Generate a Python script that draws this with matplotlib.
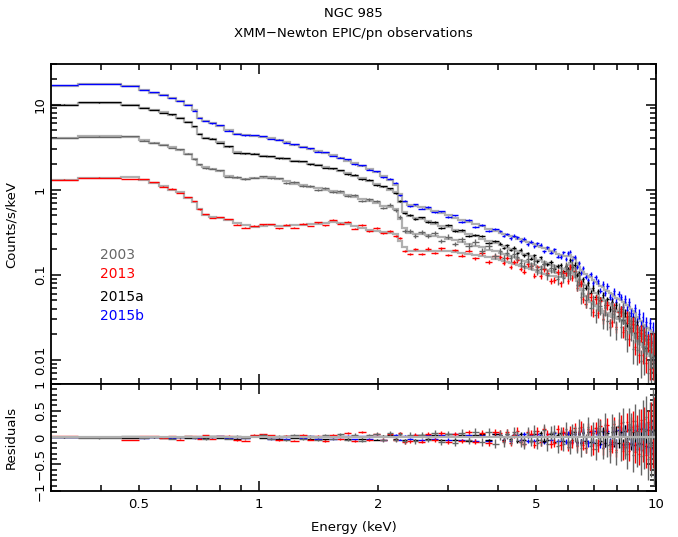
import numpy as np
import matplotlib
matplotlib.use("Agg")
import matplotlib.pyplot as plt
from matplotlib.ticker import FixedLocator, FuncFormatter, NullFormatter

# energy bin edges (keV), finer above 4 keV
edges = [0.30, 0.35, 0.45, 0.50, 0.53, 0.56, 0.59, 0.62, 0.65, 0.68,
         0.70, 0.72, 0.75, 0.78, 0.82, 0.86, 0.90, 0.95, 1.00, 1.05,
         1.10, 1.15, 1.20, 1.26, 1.32, 1.38, 1.44, 1.50, 1.57, 1.64,
         1.71, 1.78, 1.86, 1.94, 2.02, 2.10, 2.18, 2.24, 2.30, 2.36,
         2.44, 2.52, 2.62, 2.72, 2.83, 2.94, 3.06, 3.18, 3.31, 3.44,
         3.58, 3.72, 3.87, 4.02,
         4.10, 4.18, 4.26, 4.35, 4.44, 4.52, 4.61, 4.70, 4.80, 4.89,
         4.98, 5.08, 5.18, 5.28, 5.38, 5.49, 5.60, 5.71, 5.80, 5.90,
         5.98, 6.05, 6.12, 6.20, 6.28, 6.35, 6.42, 6.50, 6.60, 6.70,
         6.80, 6.90, 7.00, 7.10, 7.20, 7.30, 7.40, 7.50, 7.60, 7.70,
         7.80, 7.90, 8.00, 8.10, 8.20, 8.30, 8.40, 8.50, 8.60, 8.70,
         8.80, 8.90, 9.00, 9.10, 9.20, 9.30, 9.40, 9.50, 9.60, 9.70,
         9.78, 9.85, 9.93, 10.0]

labels = ["2003", "2013", "2015a", "2015b"]
colors = ["#666666", "#ff0000", "#000000", "#0000ff"]

# best-fit model, counts/s/keV, one value per bin
model_2003 = [4.0, 4.25, 4.2, 3.8, 3.55, 3.35, 3.15, 2.95, 2.6, 2.3,
              1.95, 1.85, 1.75, 1.65, 1.45, 1.37, 1.35, 1.36, 1.38, 1.40,
              1.32, 1.25, 1.18, 1.12, 1.08, 1.04, 1.0, 0.96, 0.92, 0.87,
              0.82, 0.78, 0.74, 0.69, 0.64, 0.62, 0.60, 0.45, 0.35, 0.31,
              0.305, 0.30, 0.295, 0.285, 0.275, 0.265, 0.255, 0.24, 0.23, 0.22,
              0.21, 0.198, 0.188,
              0.180, 0.174, 0.170, 0.164, 0.160, 0.155, 0.151, 0.146, 0.141, 0.135,
              0.131, 0.125, 0.122, 0.118, 0.115, 0.111, 0.108, 0.105, 0.103, 0.104,
              0.108, 0.114, 0.121, 0.115, 0.100, 0.088, 0.076, 0.068, 0.060, 0.056,
              0.051, 0.048, 0.045, 0.043, 0.040, 0.038, 0.036, 0.034, 0.0335, 0.0328,
              0.0322, 0.0318, 0.0312, 0.0305, 0.0295, 0.0283, 0.0268, 0.025, 0.0228, 0.021,
              0.0195, 0.0182, 0.0168, 0.0155, 0.0148, 0.0142, 0.0133, 0.0127, 0.0118, 0.0112,
              0.0107, 0.0103, 0.0098, 0.0093]
model_2013 = [1.29, 1.37, 1.40, 1.30, 1.2, 1.1, 1.0, 0.95, 0.80, 0.72,
              0.60, 0.50, 0.48, 0.47, 0.44, 0.41, 0.38, 0.36, 0.37, 0.38,
              0.37, 0.375, 0.38, 0.38, 0.39, 0.40, 0.41, 0.42, 0.41, 0.39,
              0.37, 0.35, 0.34, 0.33, 0.32, 0.31, 0.30, 0.25, 0.21, 0.19,
              0.19, 0.19, 0.19, 0.19, 0.19, 0.188, 0.185, 0.18, 0.175, 0.17,
              0.165, 0.16, 0.153,
              0.149, 0.145, 0.142, 0.138, 0.135, 0.131, 0.128, 0.124, 0.121, 0.117,
              0.113, 0.109, 0.106, 0.102, 0.100, 0.098, 0.096, 0.094, 0.093, 0.094,
              0.098, 0.103, 0.110, 0.104, 0.094, 0.084, 0.074, 0.066, 0.060, 0.056,
              0.051, 0.049, 0.046, 0.044, 0.042, 0.040, 0.038, 0.036, 0.0355, 0.0345,
              0.0335, 0.0325, 0.0315, 0.0305, 0.0295, 0.0285, 0.027, 0.025, 0.024, 0.022,
              0.0205, 0.0195, 0.0175, 0.0165, 0.0158, 0.0152, 0.0143, 0.0137, 0.0128, 0.0122,
              0.0117, 0.0113, 0.0111, 0.0109]
model_2015a = [10.0, 10.5, 10.0, 9.1, 8.6, 8.1, 7.6, 7.0, 6.3, 5.5,
               4.5, 4.1, 3.9, 3.6, 3.2, 2.75, 2.65, 2.6, 2.5, 2.45,
               2.38, 2.3, 2.2, 2.12, 2.02, 1.93, 1.85, 1.75, 1.65, 1.55,
               1.45, 1.37, 1.28, 1.18, 1.07, 1.0, 0.93, 0.72, 0.55, 0.49,
               0.47, 0.45, 0.43, 0.40, 0.375, 0.36, 0.34, 0.32, 0.30, 0.285,
               0.265, 0.25, 0.235,
               0.224, 0.216, 0.209, 0.201, 0.198, 0.191, 0.184, 0.176, 0.173, 0.166,
               0.159, 0.151, 0.148, 0.142, 0.138, 0.132, 0.128, 0.122, 0.119, 0.118,
               0.121, 0.129, 0.138, 0.130, 0.120, 0.108, 0.097, 0.087, 0.081, 0.075,
               0.072, 0.068, 0.065, 0.061, 0.058, 0.054, 0.052, 0.049, 0.047, 0.045,
               0.043, 0.041, 0.039, 0.037, 0.036, 0.034, 0.032, 0.030, 0.029, 0.027,
               0.026, 0.024, 0.023, 0.021, 0.0195, 0.0185, 0.0175, 0.0165, 0.0155, 0.0145,
               0.0135, 0.0128, 0.0122, 0.0118]
model_2015b = [16.7, 17.4, 16.5, 15.0, 13.8, 13.0, 12.0, 10.9, 9.8, 8.6,
               7.0, 6.4, 6.0, 5.6, 5.0, 4.5, 4.4, 4.3, 4.2, 4.05,
               3.85, 3.65, 3.35, 3.2, 3.0, 2.85, 2.7, 2.55, 2.35, 2.2,
               2.05, 1.9, 1.75, 1.6, 1.45, 1.3, 1.15, 0.9, 0.72, 0.66,
               0.65, 0.63, 0.60, 0.56, 0.53, 0.50, 0.47, 0.44, 0.42, 0.39,
               0.37, 0.345, 0.325,
               0.31, 0.30, 0.295, 0.285, 0.275, 0.265, 0.26, 0.25, 0.245, 0.235,
               0.23, 0.22, 0.214, 0.206, 0.199, 0.191, 0.184, 0.176, 0.172, 0.168,
               0.167, 0.168, 0.170, 0.162, 0.152, 0.138, 0.125, 0.115, 0.108, 0.102,
               0.097, 0.093, 0.087, 0.083, 0.078, 0.074, 0.071, 0.067, 0.065, 0.061,
               0.059, 0.057, 0.054, 0.052, 0.050, 0.048, 0.046, 0.044, 0.042, 0.040,
               0.038, 0.036, 0.032, 0.030, 0.0285, 0.0275, 0.0255, 0.0245, 0.0235, 0.0225,
               0.0212, 0.0205, 0.0195, 0.0185]

# fractional residuals (data - model) / model
resid_2003 = [0.01, -0.01, 0.02, -0.01, 0.01, 0.0, -0.02, 0.01, 0.02, -0.01,
              0.02, -0.03, 0.01, 0.02, -0.02, 0.03, -0.01, 0.02, 0.04, -0.03,
              0.03, -0.04, 0.05, -0.02, 0.03, -0.05, 0.04, -0.03, 0.06, -0.04,
              0.05, -0.06, 0.04, 0.07, -0.05, 0.08, -0.04, 0.06, -0.07, 0.05,
              -0.07, 0.05, -0.04, 0.08, -0.09, 0.06, -0.1, 0.09, -0.05, 0.11,
              -0.09, 0.1, -0.12,
              0.05, -0.09, 0.07, -0.04, 0.1, 0.03, -0.08, -0.12, 0.09, -0.06,
              0.12, -0.1, -0.05, 0.14, -0.13, 0.08, 0.11, -0.16, 0.06, -0.12,
              0.15, -0.09, -0.18, 0.12, 0.07, -0.14, 0.18, -0.2, 0.1, -0.11,
              0.2, -0.16, 0.09, -0.22, 0.17, 0.12, -0.19, 0.24, -0.14, -0.25,
              0.2, 0.1, -0.27, 0.22, -0.18, 0.28, -0.12, -0.3, 0.25, 0.15,
              -0.32, 0.3, -0.22, 0.18, -0.35, 0.33, -0.2, 0.38, -0.4, 0.25,
              -0.3, 0.45, -0.38, 0.3]
resid_2013 = [0.02, 0.01, -0.05, 0.03, 0.02, -0.01, 0.03, -0.04, 0.02, 0.03,
              -0.02, 0.04, -0.03, 0.02, 0.03, -0.05, -0.06, 0.05, 0.06, 0.04,
              -0.05, 0.03, -0.06, 0.05, -0.04, 0.03, -0.07, 0.05, -0.03, 0.08,
              -0.06, 0.1, -0.05, 0.07, -0.04, 0.06, -0.05, 0.08, -0.09, -0.07,
              0.05, -0.08, 0.07, -0.05, 0.08, -0.09, 0.06, -0.07, 0.1, -0.08,
              0.09, -0.11, 0.1,
              0.09, -0.06, 0.11, -0.1, 0.05, 0.13, -0.08, -0.12, 0.1, 0.07,
              -0.14, 0.12, -0.09, 0.15, 0.06, -0.13, -0.1, 0.16, -0.15, 0.11,
              0.08, -0.17, 0.14, -0.11, 0.18, -0.16, 0.1, 0.2, -0.14, -0.19,
              0.16, 0.12, -0.21, 0.18, -0.15, 0.22, -0.2, 0.14, 0.24, -0.22,
              -0.16, 0.25, -0.23, 0.19, 0.27, -0.25, -0.18, 0.28, -0.26, 0.2,
              0.3, -0.28, 0.22, -0.3, 0.32, -0.24, 0.35, -0.33, 0.28, -0.36,
              0.4, -0.3, 0.45, -0.35]
resid_2015a = [0.0, 0.01, -0.01, 0.01, 0.0, -0.01, 0.01, 0.0, -0.01, 0.01,
               0.01, -0.01, 0.02, -0.01, 0.01, -0.02, 0.01, 0.02, -0.01, 0.01,
               -0.02, 0.02, -0.01, 0.03, -0.02, 0.01, -0.03, 0.02, 0.03, -0.02,
               0.03, -0.03, 0.02, -0.04, 0.03, 0.04, -0.03, 0.02, -0.04, 0.03,
               -0.04, 0.05, -0.03, 0.04, -0.05, 0.06, -0.04, 0.05, -0.06, 0.04,
               0.07, -0.05, 0.06,
               0.04, -0.05, 0.06, -0.03, 0.05, -0.06, 0.07, -0.04, 0.03, -0.07,
               0.06, -0.05, 0.08, -0.06, -0.04, 0.07, -0.08, 0.05, 0.09, -0.07,
               0.06, -0.09, 0.08, -0.05, 0.1, -0.08, 0.07, -0.1, 0.09, -0.06,
               0.11, -0.09, 0.08, -0.11, 0.1, -0.07, 0.12, -0.1, 0.09, -0.12,
               0.11, -0.08, 0.13, -0.11, 0.1, -0.13, 0.12, -0.09, 0.14, -0.12,
               0.11, -0.14, 0.13, -0.1, 0.15, -0.13, 0.12, -0.16, 0.14, -0.11,
               0.17, -0.15, 0.13, -0.18]
resid_2015b = [0.01, 0.0, 0.01, -0.01, 0.01, 0.0, -0.01, 0.01, 0.01, -0.01,
               -0.01, 0.01, 0.0, 0.02, -0.01, 0.01, -0.01, 0.02, 0.01, -0.02,
               0.01, -0.02, 0.02, -0.01, 0.02, -0.02, 0.03, -0.02, 0.01, 0.03,
               -0.03, 0.02, -0.02, 0.03, -0.04, 0.03, 0.05, -0.04, 0.03, -0.03,
               0.04, -0.05, 0.04, -0.03, 0.05, -0.04, 0.06, -0.05, 0.04, -0.06,
               0.05, -0.06, 0.07,
               0.05, -0.04, 0.03, -0.06, 0.05, 0.04, -0.05, 0.06, -0.07, 0.04,
               -0.06, 0.07, 0.05, -0.08, 0.06, -0.05, 0.08, -0.07, -0.06, 0.09,
               -0.08, 0.07, 0.1, -0.09, 0.06, -0.1, 0.09, -0.08, 0.11, -0.07,
               -0.11, 0.1, -0.09, 0.12, 0.08, -0.12, 0.11, -0.1, 0.13, -0.09,
               -0.13, 0.12, -0.11, 0.14, 0.1, -0.14, 0.13, -0.12, 0.15, -0.11,
               -0.15, 0.14, -0.13, 0.16, -0.12, 0.17, -0.16, 0.15, -0.18, 0.2,
               -0.22, 0.18, -0.3, -0.55]

# fractional 1-sigma errors for the 2003 spectrum, others scaled down
rel_err = [0.01, 0.01, 0.01, 0.01, 0.01, 0.01, 0.01, 0.01, 0.01, 0.01,
           0.012, 0.012, 0.012, 0.014, 0.014, 0.015, 0.015, 0.016, 0.016, 0.017,
           0.018, 0.019, 0.02, 0.021, 0.022, 0.023, 0.024, 0.025, 0.026, 0.027,
           0.028, 0.03, 0.031, 0.033, 0.035, 0.037, 0.04, 0.045, 0.05, 0.05,
           0.05, 0.052, 0.054, 0.056, 0.058, 0.06, 0.063, 0.066, 0.07, 0.073,
           0.076, 0.08, 0.084,
           0.088, 0.09, 0.092, 0.094, 0.096, 0.098, 0.1, 0.102, 0.105, 0.108,
           0.11, 0.113, 0.116, 0.12, 0.123, 0.126, 0.13, 0.133, 0.133, 0.133,
           0.133, 0.133, 0.135, 0.14, 0.15, 0.155, 0.16, 0.165, 0.17, 0.175,
           0.18, 0.185, 0.19, 0.195, 0.2, 0.205, 0.21, 0.215, 0.22, 0.225,
           0.23, 0.235, 0.24, 0.25, 0.26, 0.27, 0.28, 0.29, 0.3, 0.31,
           0.32, 0.33, 0.34, 0.35, 0.36, 0.37, 0.38, 0.39, 0.4, 0.42,
           0.44, 0.46, 0.5, 0.55]
err_scale = [1.0, 0.6, 0.38, 0.35]

models = [model_2003, model_2013, model_2015a, model_2015b]
resids = [resid_2003, resid_2013, resid_2015a, resid_2015b]

plt.rcParams['font.family'] = 'DejaVu Sans'
plt.rcParams['axes.linewidth'] = 1.3

edges = np.array(edges)
lo, hi = edges[:-1], edges[1:]
cen = np.sqrt(lo * hi)
xerr = [cen - lo, hi - cen]
rel_err = np.array(rel_err)

fig = plt.figure(figsize=(6.78, 5.37), dpi=100)
ax = fig.add_axes([0.0752, 0.2849, 0.8923, 0.5959])
axr = fig.add_axes([0.0752, 0.0857, 0.8923, 0.1993], sharex=ax)

model_col = "#b0b0b0"
order = [3, 2, 1, 0]
for i in order:
    m = np.array(models[i])
    r = np.array(resids[i])
    e = rel_err * err_scale[i]
    data = m * (1 + r)
    ax.errorbar(cen, data, xerr=xerr, yerr=data * e, fmt='none',
                ecolor=colors[i], elinewidth=1.0)
    axr.errorbar(cen, r, xerr=xerr, yerr=e, fmt='none',
                 ecolor=colors[i], elinewidth=1.0)
for i in order:
    ax.stairs(models[i], edges, baseline=None, color=model_col, lw=1.6)
axr.axhline(0, color=model_col, lw=1.6)

ax.set_xscale('log')
ax.set_yscale('log')
ax.set_xlim(0.3, 10)
ax.set_ylim(0.0052, 30)
axr.set_ylim(-1, 1)

def plain(v, pos):
    return ('%g' % v)

xmaj = [1, 10]
xmin = [0.3, 0.4, 0.5, 0.6, 0.7, 0.8, 0.9, 2, 3, 4, 5, 6, 7, 8, 9]
axr.xaxis.set_major_locator(FixedLocator(xmaj))
axr.xaxis.set_minor_locator(FixedLocator(xmin))
axr.xaxis.set_major_formatter(FuncFormatter(plain))
axr.xaxis.set_minor_formatter(FuncFormatter(
    lambda v, p: ('%g' % v) if v in (0.5, 2, 5) else ''))
for a in (ax, axr):
    a.tick_params(which='both', direction='in', top=True, right=True,
                  labelsize=9.5, width=1.1)
    a.tick_params(which='major', length=7)
    a.tick_params(which='minor', length=4)
ax.tick_params(axis='x', which='both', labelbottom=False)
axr.tick_params(axis='x', which='both', pad=5)

ax.yaxis.set_major_formatter(FuncFormatter(plain))
ax.yaxis.set_minor_formatter(NullFormatter())
axr.yaxis.set_major_locator(FixedLocator([-1, -0.5, 0, 0.5, 1]))
axr.yaxis.set_minor_locator(FixedLocator(np.arange(-0.9, 1.0, 0.1)))
axr.yaxis.set_major_formatter(FuncFormatter(
    lambda v, p: ('%g' % v).replace('-', '\u2212')))
for a in (ax, axr):
    a.tick_params(axis='y', labelrotation=90, pad=3)
    plt.setp(a.get_yticklabels(), va='center')

ax.set_ylabel("Counts/s/keV", fontsize=9.5)
axr.set_ylabel("Residuals", fontsize=9.5)
axr.set_xlabel("Energy (keV)", fontsize=9.5, labelpad=7)
ax.yaxis.set_label_coords(-0.055, 0.5)
axr.yaxis.set_label_coords(-0.055, 0.5)

fig.text(0.5214, 0.974, "NGC 985", ha='center', va='center', fontsize=9.5)
fig.text(0.5214, 0.938, "XMM\u2212Newton EPIC/pn observations", ha='center',
         va='center', fontsize=9.5)

leg_y = [0.403, 0.344, 0.273, 0.213]
for i in range(4):
    ax.text(0.081, leg_y[i], labels[i], color=colors[i], transform=ax.transAxes,
            fontsize=10, va='center')

fig.savefig("out.png", dpi=100)
